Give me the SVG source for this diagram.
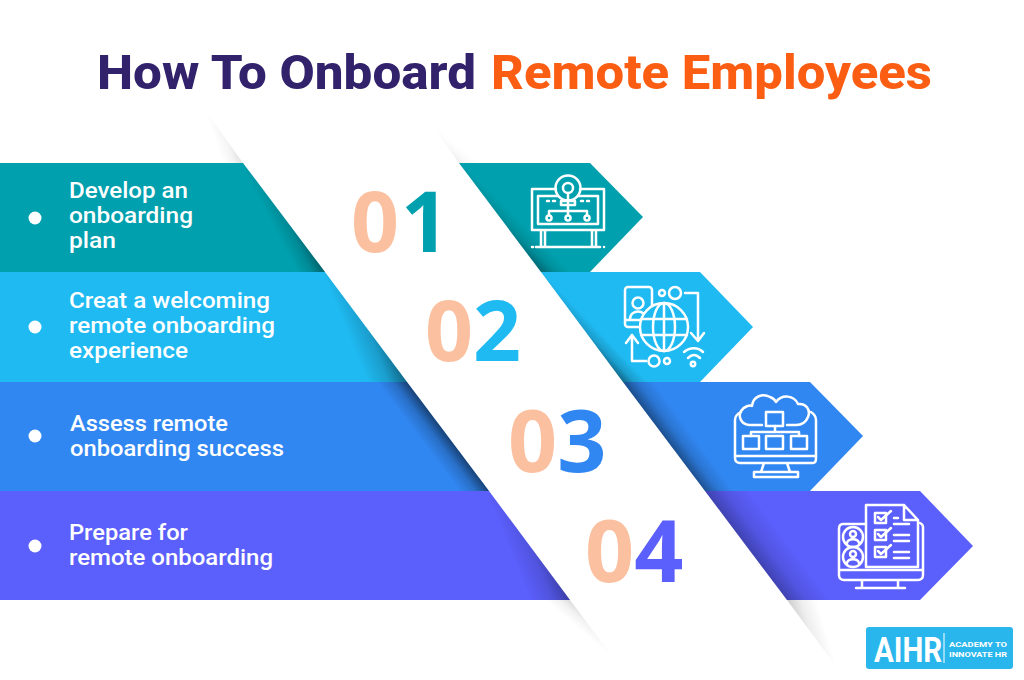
<svg xmlns="http://www.w3.org/2000/svg" width="1024" height="680" viewBox="0 0 1024 680">
<style>
.t{font-family:Roboto,"Open Sans","Liberation Sans",sans-serif;font-weight:800;font-size:49px}
.l{font-family:Roboto,"Liberation Sans",sans-serif;font-weight:500;font-size:21.3px;fill:#fff}
.n{font-family:"Open Sans","Liberation Sans",sans-serif;font-weight:700;font-size:84px}
.i{fill:none;stroke:#fff;stroke-width:2.5;stroke-linecap:round;stroke-linejoin:round}
.b{font-family:Roboto,"Liberation Sans",sans-serif;font-weight:700;fill:#fff}
</style>
<defs>
<linearGradient id="g" gradientUnits="userSpaceOnUse"><stop offset="0" stop-color="#000" stop-opacity="1"/><stop offset=".45" stop-color="#000" stop-opacity=".35"/><stop offset="1" stop-color="#000" stop-opacity="0"/></linearGradient>
<linearGradient id="sl1" href="#g" x1="325" y1="272" x2="303" y2="283.5"/>
<linearGradient id="sl2" href="#g" x1="407" y1="382" x2="373" y2="396"/>
<linearGradient id="sl3" href="#g" x1="489" y1="491" x2="470" y2="505.4"/>
<linearGradient id="sl4" href="#g" x1="570" y1="600" x2="536" y2="614"/>
<linearGradient id="sr1" href="#g" x1="541" y1="272" x2="556" y2="257"/>
<linearGradient id="sr2" href="#g" x1="623" y1="382" x2="636" y2="369.5"/>
<linearGradient id="sr3" href="#g" x1="705" y1="491" x2="724" y2="477"/>
<linearGradient id="sr4" href="#g" x1="787" y1="600" x2="815" y2="579"/>
<linearGradient id="o1" href="#g" x1="243" y1="163" x2="225.3" y2="169.4"/>
<linearGradient id="o2" href="#g" x1="459" y1="163" x2="467.1" y2="153.2"/>
<linearGradient id="o3" href="#g" x1="570" y1="600" x2="559.5" y2="612.3"/>
<linearGradient id="o4" href="#g" x1="787" y1="600" x2="814.5" y2="591.7"/>
</defs>
<rect width="1024" height="680" fill="#fff"/>
<g id="title">
<text class="t" x="97" y="89" fill="#31226b" textLength="379" lengthAdjust="spacingAndGlyphs">How To Onboard</text>
<text class="t" x="491" y="89" fill="#fb5e13" textLength="441" lengthAdjust="spacingAndGlyphs">Remote Employees</text>
</g>

<g id="band-1">
<polygon points="0,163 243,163 325,272 0,272" fill="#00a0ae"/>
<polygon points="243,163 325,272 200,272 200,163" fill="url(#sl1)" opacity=".4"/>
<polygon points="459,163 590,163 643,217 590,272 541,272" fill="#00a0ae"/>
<polygon points="459,163 541,272 590,272 590,163" fill="url(#sr1)" opacity=".35"/>
<circle cx="35" cy="218" r="6.5" fill="#fff"/>
<text class="l" x="69" y="198" textLength="119" lengthAdjust="spacingAndGlyphs">Develop an</text><text class="l" x="69" y="223" textLength="124" lengthAdjust="spacingAndGlyphs">onboarding</text><text class="l" x="69" y="248" textLength="47" lengthAdjust="spacingAndGlyphs">plan</text>
<text class="n" x="351" y="252" fill="#fbc0a0">0<tspan dx="2" fill="#00a0ae">1</tspan></text>
<g class="i">
<circle cx="568" cy="188" r="12.5"/><circle cx="568" cy="188" r="5"/>
<path d="M568 193V215M561 201H575V205H561ZM556 189H532V230H604V189H580M558 196H538V224H598V196H578M547 201H549M553 201H555M581 201H583M587 201H589M549 215V211H587V215M541 230V247M545 230V247M592 230V247M596 230V247M536 247H600M532 247H533M604 247H604"/>
<circle cx="549" cy="218" r="2.5"/><circle cx="568" cy="218" r="2.5"/><circle cx="587" cy="218" r="2.5"/>
</g>
</g>

<g id="band-2">
<polygon points="0,272 325,272 407,382 0,382" fill="#1fbaf2"/>
<polygon points="325,272 407,382 290,382 290,272" fill="url(#sl2)" opacity=".45"/>
<polygon points="541,272 700,272 753,327 700,382 623,382" fill="#1fbaf2"/>
<polygon points="541,272 623,382 700,382 700,272" fill="url(#sr2)" opacity=".45"/>
<circle cx="35" cy="327" r="6.5" fill="#fff"/>
<text class="l" x="69" y="308" textLength="201" lengthAdjust="spacingAndGlyphs">Creat a welcoming</text><text class="l" x="69" y="333" textLength="206" lengthAdjust="spacingAndGlyphs">remote onboarding</text><text class="l" x="69" y="358" textLength="119" lengthAdjust="spacingAndGlyphs">experience</text>
<text class="n" x="425" y="361" fill="#fbc0a0">0<tspan fill="#1fbaf2">2</tspan></text>
<g class="i">
<rect x="625" y="287" width="27" height="40" rx="3"/><path d="M626 320H651"/><circle cx="638" cy="303" r="5.5"/><path d="M630 319C630 309 646 309 646 319"/>
<circle cx="664" cy="327" r="24" fill="#1fbaf2" stroke="none"/><circle cx="664" cy="327" r="24"/><ellipse cx="664" cy="327" rx="11" ry="24"/><path d="M664 303V351M641 319H687M641 335H687"/>
<circle cx="662" cy="293" r="3"/><circle cx="675" cy="293" r="6"/><path d="M685 293H698V340M691 333L698 341L704 333"/>
<path d="M646 361H632V335M626 343L632 335L638 343"/><circle cx="654" cy="361" r="5.5"/><circle cx="667" cy="361" r="3"/>
<path d="M684 352C690 347 698 347 703 352M688 358C692 354 696 354 700 358"/><circle cx="693" cy="364" r="2.2"/>
</g>
</g>

<g id="band-3">
<polygon points="0,382 407,382 489,491 0,491" fill="#3187f2"/>
<polygon points="407,382 489,491 380,491 380,382" fill="url(#sl3)" opacity=".5"/>
<polygon points="623,382 810,382 863,436 810,491 705,491" fill="#3187f2"/>
<polygon points="623,382 705,491 810,491 810,382" fill="url(#sr3)" opacity=".4"/>
<circle cx="35" cy="436" r="6.5" fill="#fff"/>
<text class="l" x="70" y="431" textLength="158" lengthAdjust="spacingAndGlyphs">Assess remote</text><text class="l" x="70" y="456" textLength="214" lengthAdjust="spacingAndGlyphs">onboarding success</text>
<text class="n" x="508" y="472" fill="#fbc0a0" style="font-size:86px">0<tspan fill="#3187f2">3</tspan></text>
<g class="i">
<path d="M741 412C737 414 735 416 735 420V458C735 461 737 463 740 463H813C815 463 816 461 816 458V420C816 416 814 414 811 412M735 456H816M764 463L761 472H790L787 463M754 477V472H798V477H754"/>
<path d="M762 425H749C741 424 738 417 741 411C744 406 750 405 752 406C753 396 763 393 770 397C773 398 775 400 776 402C782 394 794 395 798 404C806 403 811 410 808 417C806 422 803 425 796 425H787"/>
<rect x="766" y="412" width="17" height="14"/><path d="M775 426V432M751 436V432H799V436"/>
<rect x="743" y="436" width="16" height="13"/><rect x="766" y="436" width="17" height="13"/><rect x="791" y="436" width="16" height="13"/>
</g>
</g>

<g id="band-4">
<polygon points="0,491 489,491 570,600 0,600" fill="#5b5ffc"/>
<polygon points="489,491 570,600 450,600 450,491" fill="url(#sl4)" opacity=".35"/>
<polygon points="705,491 920,491 973,546 920,600 787,600" fill="#5b5ffc"/>
<polygon points="705,491 787,600 900,600 900,491" fill="url(#sr4)" opacity=".3"/>
<circle cx="35" cy="546" r="6.5" fill="#fff"/>
<text class="l" x="69" y="540" textLength="119" lengthAdjust="spacingAndGlyphs">Prepare for</text><text class="l" x="69" y="565" textLength="204" lengthAdjust="spacingAndGlyphs">remote onboarding</text>
<text class="n" x="585" y="582" fill="#fbc0a0" style="font-size:86px">0<tspan fill="#5b5ffc">4</tspan></text>
<g class="i">
<path d="M866 524H843C840 524 839 526 839 529V575C839 578 841 580 844 580H918C921 580 923 578 923 575V527C923 525 922 524 920 523M839 570H923M862 580V588M898 580V588M856 588H905"/>
<path d="M866 567V505H904L918 520V567ZM904 505V520H918"/>
<circle cx="853" cy="537" r="10"/><circle cx="853" cy="557" r="10"/><circle cx="853" cy="534" r="3"/><path d="M847 543C848 538 858 538 859 543M847 563C848 558 858 558 859 563"/><circle cx="853" cy="554" r="3"/>
<rect x="875" y="513" width="11" height="10"/><rect x="875" y="530" width="11" height="10"/><rect x="875" y="547" width="11" height="10"/>
<path d="M878 517L881 520L891 511M878 534L881 537L891 528M878 551L881 554L891 545M894 518H898M894 524H909M894 535H909M894 541H909M894 552H909M894 558H909"/>
</g>
</g>

<g id="fold-shadows">
<polygon points="205,110 243,163 220,163 185,110" fill="url(#o1)" opacity=".12"/>
<polygon points="432,125 459,163 490,163 460,125" fill="url(#o2)" opacity=".07"/>
<polygon points="570,600 612,656 590,656 545,600" fill="url(#o3)" opacity=".14"/>
<polygon points="787,600 835,665 875,665 830,600" fill="url(#o4)" opacity=".2"/>
</g>

<g id="logo">
<rect x="866" y="627" width="147" height="42" rx="3" fill="#29b6ec"/>
<text class="b" font-size="36" transform="translate(874 662) scale(.82 1)">AIHR</text>
<path d="M944 633V663" stroke="#fff" stroke-width="1"/>
<text class="b" x="949" y="647" font-size="8" textLength="58" lengthAdjust="spacingAndGlyphs">ACADEMY TO</text>
<text class="b" x="949" y="656.5" font-size="8" textLength="58" lengthAdjust="spacingAndGlyphs">INNOVATE HR</text>
</g>
</svg>
